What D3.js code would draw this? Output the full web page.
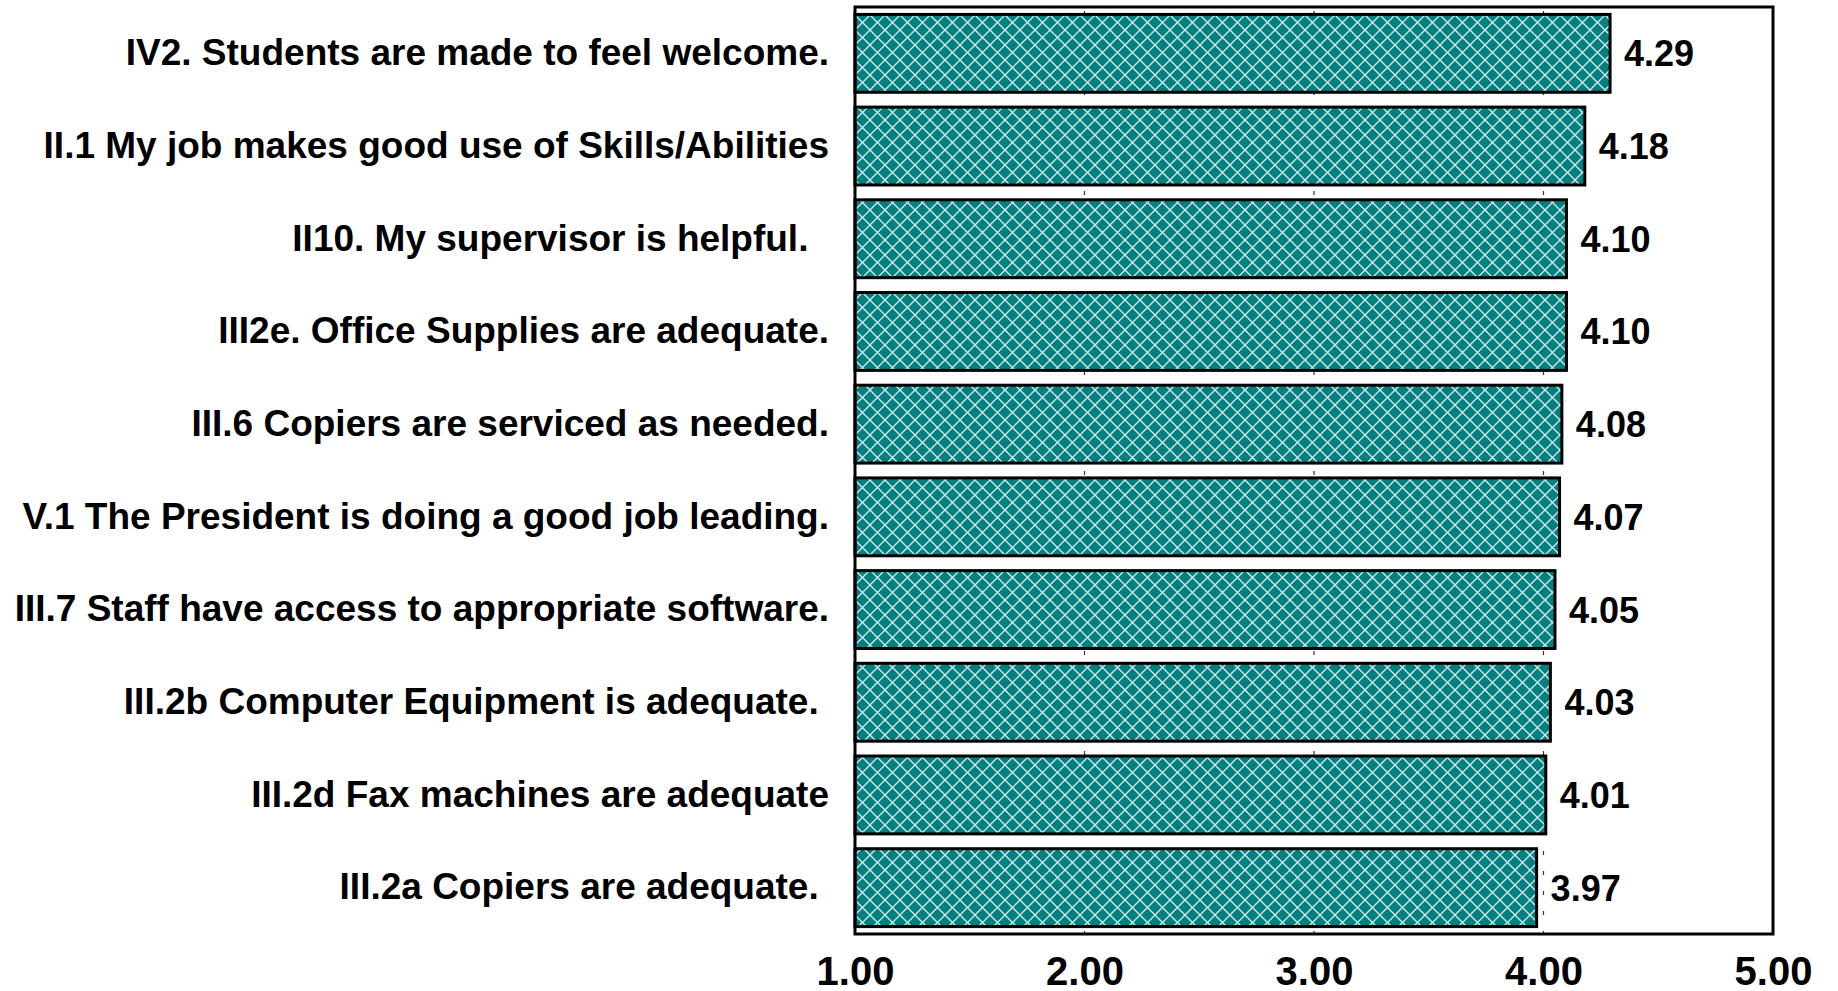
<!DOCTYPE html>
<html>
<head>
<meta charset="utf-8">
<script src="https://cdn.jsdelivr.net/npm/d3@7/dist/d3.min.js"></script>
<style>
  html, body { margin: 0; padding: 0; background: #fff; }
  svg { display: block; }
  text { font-family: "Liberation Sans", Arial, sans-serif; font-weight: bold; fill: #000; white-space: pre; }
</style>
</head>
<body>
<svg id="chart" width="1838" height="991"></svg>
<script>
// Survey items (top to bottom) and their mean ratings
const categories = [
  "IV2. Students are made to feel welcome.",
  "II.1 My job makes good use of Skills/Abilities",
  "II10. My supervisor is helpful.  ",
  "III2e. Office Supplies are adequate.",
  "III.6 Copiers are serviced as needed.",
  "V.1 The President is doing a good job leading.",
  "III.7 Staff have access to appropriate software.",
  "III.2b Computer Equipment is adequate. ",
  "III.2d Fax machines are adequate",
  "III.2a Copiers are adequate. "
];
const values = [4.29, 4.18, 4.10, 4.10, 4.08, 4.07, 4.05, 4.03, 4.01, 3.97];
const xTicks = [1, 2, 3, 4, 5];
const xDomain = [1, 5];

const svg = d3.select("#chart");
const plot = { left: 855, right: 1773, top: 7, bottom: 934 };

const x = d3.scaleLinear().domain(xDomain).range([plot.left, plot.right]);
const y = d3.scaleBand().domain(categories)
  .range([plot.top, plot.bottom])
  .paddingInner(0.16)
  .paddingOuter(0.08);

// Teal crosshatch fill for the bars
const defs = svg.append("defs");
const pat = defs.append("pattern")
  .attr("id", "hatch")
  .attr("patternUnits", "userSpaceOnUse")
  .attr("width", 15).attr("height", 15);
pat.append("rect").attr("width", 15).attr("height", 15).attr("fill", "#008080");
pat.append("path")
  .attr("d", "M0,0 L15,15 M15,0 L0,15 M-1,14 L1,16 M14,-1 L16,1 M-1,1 L1,-1 M14,16 L16,14")
  .attr("stroke", "#d4e6e6")
  .attr("stroke-width", 1.4)
  .attr("fill", "none");

// Dotted vertical gridlines at inner ticks
svg.append("g")
  .selectAll("line")
  .data(xTicks.filter(d => d > xDomain[0] && d < xDomain[1]))
  .join("line")
  .attr("x1", d => x(d)).attr("x2", d => x(d))
  .attr("y1", plot.top).attr("y2", plot.bottom)
  .attr("stroke", "#333")
  .attr("stroke-width", 1.2)
  .attr("stroke-dasharray", "4,16")
  .attr("stroke-dashoffset", 16);

// Bars
svg.append("g")
  .selectAll("rect")
  .data(values)
  .join("rect")
  .attr("x", x(xDomain[0]))
  .attr("y", (d, i) => y(categories[i]))
  .attr("width", d => x(d) - x(xDomain[0]))
  .attr("height", y.bandwidth())
  .attr("fill", "url(#hatch)")
  .attr("stroke", "#000")
  .attr("stroke-width", 3);

// Value labels
svg.append("g")
  .selectAll("text")
  .data(values)
  .join("text")
  .attr("x", d => x(d) + 14)
  .attr("y", (d, i) => y(categories[i]) + y.bandwidth() / 2)
  .attr("dy", "0.36em")
  .attr("font-size", 36)
  .text(d => d.toFixed(2));

// Category labels
svg.append("g")
  .selectAll("text")
  .data(categories)
  .join("text")
  .attr("x", 829)
  .attr("y", d => y(d) + y.bandwidth() / 2)
  .attr("dy", "0.32em")
  .attr("text-anchor", "end")
  .attr("font-size", 37)
  .text(d => d);

// Plot frame
svg.append("rect")
  .attr("x", plot.left).attr("y", plot.top)
  .attr("width", plot.right - plot.left)
  .attr("height", plot.bottom - plot.top)
  .attr("fill", "none")
  .attr("stroke", "#000")
  .attr("stroke-width", 3);

// X axis tick labels
const xAxis = d3.axisBottom(x)
  .tickValues(xTicks)
  .tickFormat(d3.format(".2f"))
  .tickSize(0)
  .tickPadding(0);
const gx = svg.append("g")
  .attr("transform", `translate(0,${plot.bottom})`)
  .call(xAxis);
gx.select(".domain").remove();
gx.selectAll("text")
  .attr("font-size", 40)
  .attr("font-family", null)
  .attr("y", 51)
  .attr("dy", 0);
</script>
</body>
</html>
